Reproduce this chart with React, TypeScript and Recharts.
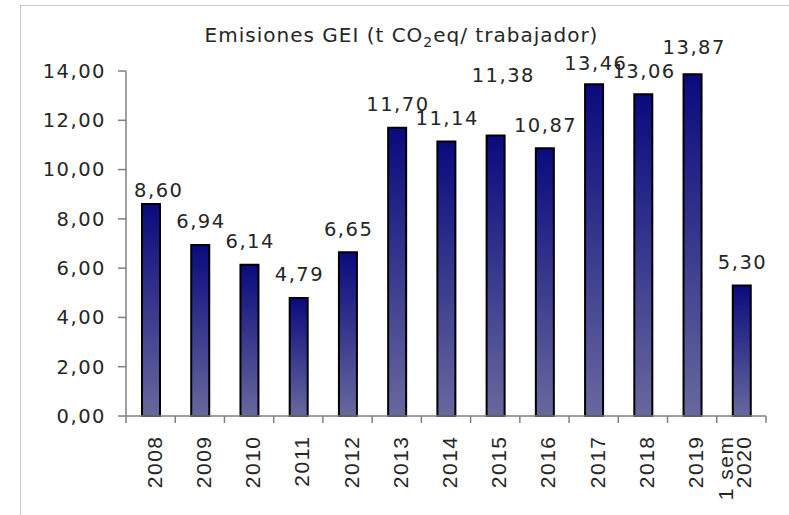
import React from 'react';
import { BarChart, Bar, XAxis, YAxis, LabelList } from 'recharts';

const categories = ['2008', '2009', '2010', '2011', '2012', '2013', '2014', '2015', '2016', '2017', '2018', '2019', '1 sem\n2020'];
const emissions = [8.6, 6.94, 6.14, 4.79, 6.65, 11.7, 11.14, 11.38, 10.87, 13.46, 13.06, 13.87, 5.3];
const yTicks = [0, 2, 4, 6, 8, 10, 12, 14];

const data = categories.map((c, i) => ({ category: c, value: emissions[i] }));

// manual label nudges (style only): [dx, dy]
const labelNudge: Record<number, [number, number]> = { 0: [7, 9], 7: [7, -37], 9: [1, 2], 11: [1, -4] };

const FONT = '"DejaVu Sans", Verdana, sans-serif';
const XFONT = '"Liberation Sans", Arial, sans-serif';
const TEXT = '#262626';
const AXIS = '#808080';
const fmt = (v: number) => Number(v).toFixed(2).replace('.', ',');

const ValueLabel = (props: any) => {
  const x = Number(props.x);
  const y = Number(props.y);
  const w = Number(props.width);
  const [dx, dy] = labelNudge[props.index] ?? [0, 0];
  return (
    <text
      x={x + w / 2 + dx + 0.75}
      y={y - 23 + dy}
      textAnchor="middle"
      dominantBaseline="central"
      fontFamily={FONT}
      fontSize={19.5}
      letterSpacing={1.5}
      fill={TEXT}
    >
      {fmt(props.value)}
    </text>
  );
};

const XTick = (props: any) => {
  const x = Number(props.x);
  const y = Number(props.y);
  const { payload, index } = props;
  const half = payload && payload.offset ? payload.offset : Number(props.width) / categories.length / 2;
  const lines = String(payload.value).split('\n');
  const n = lines.length;
  const base = n > 1 ? 1.5 : 3;
  return (
    <g>
      <line x1={x - half} x2={x - half} y1={y} y2={y + 7} stroke={AXIS} strokeWidth={1.5} />
      {index === categories.length - 1 && (
        <line x1={x + half} x2={x + half} y1={y} y2={y + 7} stroke={AXIS} strokeWidth={1.5} />
      )}
      <g transform={`translate(${x},${y + 19.5}) rotate(-90)`}>
        <text textAnchor="end" dominantBaseline="central" fontFamily={XFONT} fontSize={21} letterSpacing={1.5} fill={TEXT}>
          {lines.map((l, i) => (
            <tspan key={i} x={0} y={base - (n - 1 - i) * 18}>
              {l}
            </tspan>
          ))}
        </text>
      </g>
    </g>
  );
};

export default function App() {
  return (
    <div style={{ position: 'absolute', left: 0, top: 0, width: 789, height: 515, background: '#fff' }}>
      <BarChart
        width={789}
        height={515}
        data={data}
        margin={{ top: 71, right: 23, bottom: 0, left: 0 }}
        barCategoryGap={0}
      >
        <defs>
          <linearGradient id="barGrad" x1="0" y1="0" x2="0" y2="1">
            <stop offset="0%" stopColor="#0a0a7e" />
            <stop offset="100%" stopColor="#68689e" />
          </linearGradient>
        </defs>
        <XAxis
          dataKey="category"
          height={99}
          interval={0}
          tickSize={0}
          tickMargin={0}
          tickLine={false}
          axisLine={{ stroke: AXIS, strokeWidth: 1.5 }}
          tick={<XTick />}
        />
        <YAxis
          width={126}
          domain={[0, 14]}
          ticks={yTicks}
          interval={0}
          tickFormatter={fmt}
          tickSize={8}
          tickMargin={12}
          axisLine={{ stroke: AXIS, strokeWidth: 1.5 }}
          tickLine={{ stroke: AXIS, strokeWidth: 1.5 }}
          tick={{ fontSize: 19.5, fontFamily: FONT, fill: TEXT, letterSpacing: 1.5 }}
        />
        <Bar dataKey="value" barSize={18} fill="url(#barGrad)" stroke="#000" strokeWidth={2} isAnimationActive={false}>
          <LabelList dataKey="value" content={<ValueLabel />} />
        </Bar>
      </BarChart>
      <svg width={789} height={515} style={{ position: 'absolute', left: 0, top: 0, pointerEvents: 'none' }}>
        <line x1={20.5} x2={20.5} y1={5} y2={515} stroke="#c8c8c8" strokeWidth={1} />
        <line x1={20.5} x2={789} y1={5.5} y2={5.5} stroke="#c8c8c8" strokeWidth={1} />
        <text x={401.5} y={41.5} textAnchor="middle" fontFamily={FONT} fontSize={20} letterSpacing={1} fill={TEXT}>
          Emisiones GEI (t CO
          <tspan fontSize={14} dy={5}>2</tspan>
          <tspan dy={-5}>eq/ trabajador)</tspan>
        </text>
      </svg>
    </div>
  );
}
